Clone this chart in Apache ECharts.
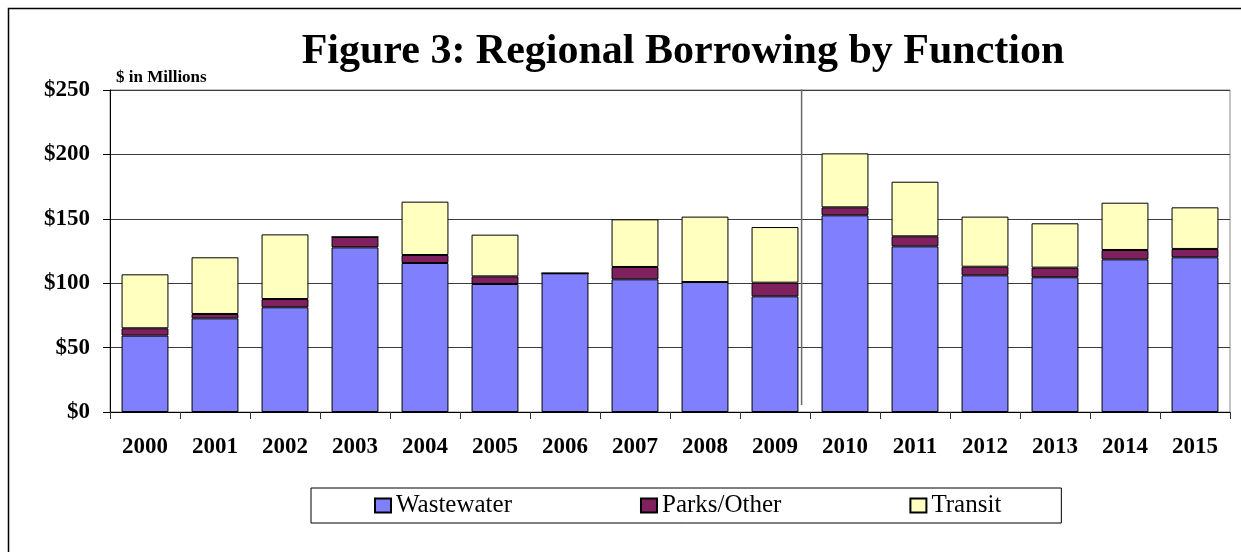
<!DOCTYPE html>
<html>
<head>
<meta charset="utf-8">
<script src="https://cdn.jsdelivr.net/npm/echarts@6/dist/echarts.min.js"></script>
<style>
  html, body { margin: 0; padding: 0; background: #fff; overflow: hidden; }
  #chart { width: 1241px; height: 552px; }
</style>
</head>
<body>
<div id="chart"></div>
<script>
// Regional borrowing by function, $ in millions
const years = ['2000','2001','2002','2003','2004','2005','2006','2007','2008','2009','2010','2011','2012','2013','2014','2015'];
const wastewater = [59.3, 72.7, 81.3, 127.8, 115.7, 99.4, 107.7, 103.0, 100.9, 89.8, 152.7, 128.6, 106.1, 104.6, 118.5, 120.1];
const parksOther = [5.7, 3.4, 6.4, 8.1, 6.2, 5.9, 0, 9.6, 0, 10.6, 6.2, 7.8, 6.7, 7.5, 7.3, 6.5];
const transit    = [41.9, 44.0, 50.2, 0, 41.4, 32.4, 0, 37.0, 50.8, 43.2, 41.9, 42.4, 38.9, 34.4, 36.7, 32.3];
const yTicks = [0, 50, 100, 150, 200, 250];
// divider between 2009 and 2010, in category-index units on a hidden value axis
const dividerLine = [[9.88, 5.4], [9.88, 250.5]];

const serif = "'Liberation Serif', 'Times New Roman', serif";
const chart = echarts.init(document.getElementById('chart'), null, { renderer: 'canvas' });

function barSeries(name, data, color) {
  return {
    name, type: 'bar', stack: 'total', data,
    barCategoryGap: '33%',
    itemStyle: { color, borderColor: '#000', borderWidth: 1 },
    emphasis: { disabled: true }
  };
}

chart.setOption({
  animation: false,
  backgroundColor: '#fff',
  title: {
    text: 'Figure 3: Regional Borrowing by Function',
    left: 678, top: 26, textAlign: 'center',
    textStyle: { fontFamily: serif, fontWeight: 'bold', fontSize: 42, color: '#000' }
  },
  graphic: [{
    type: 'rect', silent: true, z: -1,
    shape: { x: 8.5, y: 8.5, width: 1400, height: 700 },
    style: { fill: null, stroke: '#000', lineWidth: 1.5 }
  }],
  legend: {
    data: ['Wastewater', 'Parks/Other', 'Transit'],
    left: 311, top: 488,
    padding: [5, 60, 5, 63],
    itemGap: 128, itemWidth: 16, itemHeight: 14,
    borderColor: '#000', borderWidth: 1,
    icon: 'rect',
    textStyle: { fontFamily: serif, fontSize: 25, color: '#000' }
  },
  grid: {
    left: 110, right: 11, top: 90, bottom: 140,
    show: true, borderColor: '#8a8a8a', borderWidth: 1
  },
  xAxis: [{
    type: 'category', data: years,
    axisLine: { lineStyle: { color: '#000' } },
    axisTick: { show: true, length: 7, alignWithLabel: false, lineStyle: { color: '#333' } },
    axisLabel: { fontFamily: serif, fontWeight: 'bold', fontSize: 23, color: '#000', margin: 24, interval: 0 }
  }, {
    type: 'value', min: 0, max: years.length, show: false
  }],
  yAxis: {
    type: 'value', min: yTicks[0], max: yTicks[yTicks.length - 1], interval: 50,
    name: '$ in Millions', nameLocation: 'end', nameGap: 4,
    nameTextStyle: { fontFamily: serif, fontWeight: 'bold', fontSize: 17, color: '#000', align: 'left', padding: [0, 0, 0, 6] },
    axisLine: { show: true, lineStyle: { color: '#000' } },
    axisTick: { show: true, length: 7, lineStyle: { color: '#000' } },
    axisLabel: { fontFamily: serif, fontWeight: 'bold', fontSize: 23, color: '#000', margin: 20, formatter: v => '$' + v },
    splitLine: { lineStyle: { color: '#3c3c3c', width: 1 } }
  },
  series: [
    barSeries('Wastewater', wastewater, '#8080ff'),
    barSeries('Parks/Other', parksOther, '#80205f'),
    barSeries('Transit', transit, '#ffffc0'),
    {
      name: 'divider', type: 'line', xAxisIndex: 1, data: dividerLine,
      silent: true, symbol: 'none', z: 5,
      lineStyle: { color: '#6a6a6a', width: 1.5 },
      emphasis: { disabled: true }
    }
  ]
});
</script>
</body>
</html>
